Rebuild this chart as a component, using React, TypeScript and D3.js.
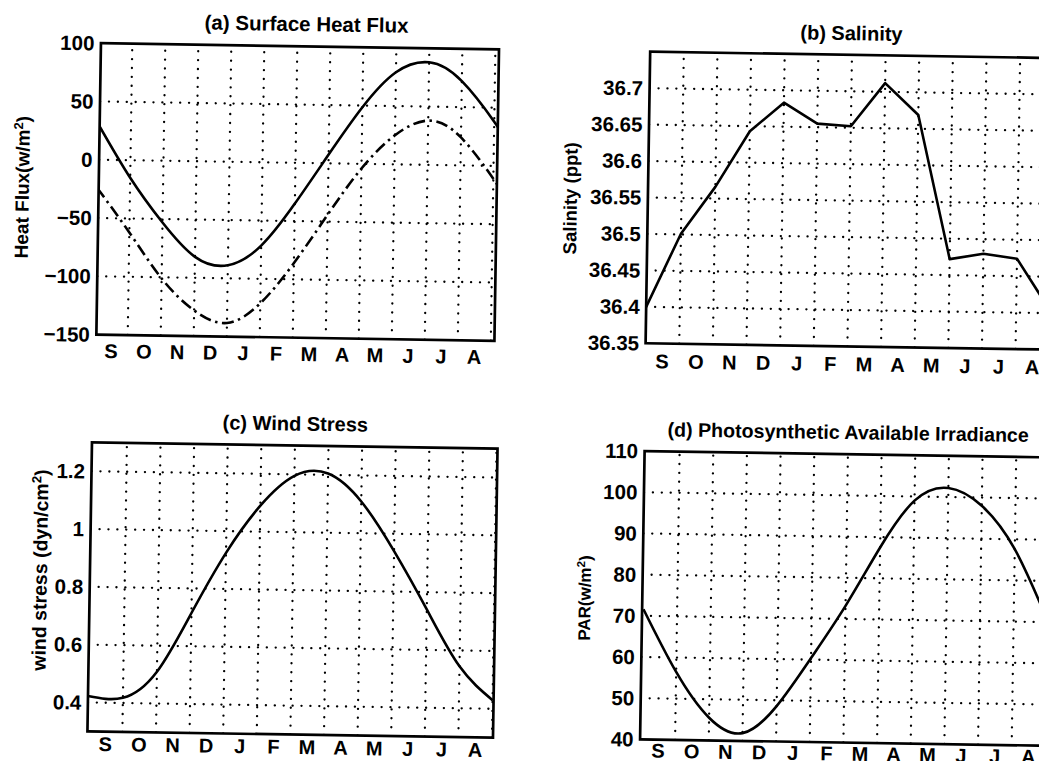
import React from "react";
import * as d3 from "d3";

// ---------- data ----------
const MONTHS = ["S", "O", "N", "D", "J", "F", "M", "A", "M", "J", "J", "A"];
const MONTH_BOUNDS = [1, 2, 3, 4, 5, 6, 7, 8, 9, 10, 11, 12];

// (a) Surface heat flux (w/m^2): solid and dash-dot curves
const HEAT_MONTH = [0, 1, 2, 3, 4, 5, 6, 7, 8, 9, 10, 11, 12, 12.15];
const HEAT_NET = [31, -15, -53, -82, -88.8, -71.5, -35, 7.5, 48.5, 79, 88, 72.3, 38, 31];
const HEAT_DASH = [-24, -62, -101, -128, -138.3, -121, -86, -44, -4, 25, 38, 24, -11, -18];
const HEAT_TICKS = [100, 50, 0, -50, -100, -150];
const HEAT_TICK_LABELS = ["100", "50", "0", "\u221250", "\u2212100", "\u2212150"];

// (b) Salinity (ppt)
const SAL_MONTH = [0, 1, 2, 3, 4, 5, 6, 7, 8, 9, 10, 11, 12];
const SALINITY = [36.4, 36.501, 36.566, 36.643, 36.683, 36.655, 36.652, 36.712, 36.669, 36.472, 36.48, 36.474, 36.404];
const SAL_TICKS = [36.7, 36.65, 36.6, 36.55, 36.5, 36.45, 36.4, 36.35];
const SAL_TICK_LABELS = ["36.7", "36.65", "36.6", "36.55", "36.5", "36.45", "36.4", "36.35"];

// (c) Wind stress (dyn/cm^2)
const WIND_MONTH = [-0.04, 1, 2, 3, 4, 5, 6, 7, 8, 9, 10, 11, 12];
const WIND = [0.422, 0.418, 0.51, 0.715, 0.925, 1.09, 1.195, 1.205, 1.11, 0.94, 0.74, 0.545, 0.43];
const WIND_TICKS = [1.2, 1, 0.8, 0.6, 0.4];
const WIND_TICK_LABELS = ["1.2", "1", "0.8", "0.6", "0.4"];

// (d) Photosynthetic available irradiance (w/m^2)
const PAR_MONTH = [0, 1, 2, 3, 4, 5, 6, 7, 8, 9, 10, 11, 12];
const PAR = [71.6, 56.5, 45.5, 41.9, 48.6, 60.4, 73.2, 87.5, 99, 102.2, 98, 87.6, 70.5];
const PAR_TICKS = [110, 100, 90, 80, 70, 60, 50, 40];
const PAR_TICK_LABELS = ["110", "100", "90", "80", "70", "60", "50", "40"];

// ---------- layout ----------
const FONT = "'Liberation Sans', Arial, Helvetica, sans-serif";
const W = 1039;
const H = 761;

type Series = { xs: number[]; ys: number[]; dash?: string; curve: any };
type Panel = {
  key: string;
  title: string;
  titleSize: number;
  titleX: number;
  titleY: number;
  left: number;
  right: number;
  top: number;
  bottom: number;
  xStart: number;
  xEnd: number;
  yDomain: [number, number];
  ticks: number[];
  tickLabels: string[];
  grid: number[];
  monthY: number;
  ylabel: React.ReactNode;
  ylabelSize: number;
  ylabelX: number;
  ylabelY: number;
  series: Series[];
};

const sup = (base: string, after: string, size: number) => (
  <>
    {base}
    <tspan dy={-size * 0.36} fontSize={size * 0.68}>2</tspan>
    <tspan dy={size * 0.36}>{after}</tspan>
  </>
);

const smooth = d3.curveNatural;

const PANELS: Panel[] = [
  {
    key: "a",
    title: "(a) Surface Heat Flux",
    titleSize: 20.5,
    titleX: 301,
    titleY: 34.5,
    left: 95.7,
    right: 493.8,
    top: 49.8,
    bottom: 341.2,
    xStart: 0.05,
    xEnd: 12.11,
    yDomain: [-150, 100],
    ticks: HEAT_TICKS,
    tickLabels: HEAT_TICK_LABELS,
    grid: [50, 0, -50, -100],
    monthY: 364.5,
    ylabel: sup("Heat Flux(w/m", ")", 19),
    ylabelSize: 19,
    ylabelX: 26,
    ylabelY: 195,
    series: [
      { xs: HEAT_MONTH, ys: HEAT_NET, curve: smooth },
      { xs: HEAT_MONTH, ys: HEAT_DASH, dash: "12 4.5 2.5 4.5", curve: smooth },
    ],
  },
  {
    key: "b",
    title: "(b) Salinity",
    titleSize: 20,
    titleX: 846,
    titleY: 35,
    left: 645,
    right: 1052,
    top: 49.7,
    bottom: 341.3,
    xStart: 0,
    xEnd: 12.1,
    yDomain: [36.35, 36.75],
    ticks: SAL_TICKS,
    tickLabels: SAL_TICK_LABELS,
    grid: [36.7, 36.65, 36.6, 36.55, 36.5, 36.45, 36.4],
    monthY: 366,
    ylabel: "Salinity (ppt)",
    ylabelSize: 18.5,
    ylabelX: 574,
    ylabelY: 197.5,
    series: [{ xs: SAL_MONTH, ys: SALINITY, curve: d3.curveLinear }],
  },
  {
    key: "c",
    title: "(c) Wind Stress",
    titleSize: 20,
    titleX: 296,
    titleY: 434,
    left: 93,
    right: 498.6,
    top: 449,
    bottom: 738.1,
    xStart: -0.04,
    xEnd: 12.03,
    yDomain: [0.3, 1.3],
    ticks: WIND_TICKS,
    tickLabels: WIND_TICK_LABELS,
    grid: [1.2, 1, 0.8, 0.6, 0.4],
    monthY: 757.5,
    ylabel: sup("wind stress (dyn/cm", ")", 19.5),
    ylabelSize: 19.5,
    ylabelX: 50,
    ylabelY: 577.5,
    series: [{ xs: WIND_MONTH, ys: WIND, curve: smooth }],
  },
  {
    key: "d",
    title: "(d) Photosynthetic Available Irradiance",
    titleSize: 19.6,
    titleX: 849,
    titleY: 434,
    left: 645.7,
    right: 1052.7,
    top: 449.1,
    bottom: 737.4,
    xStart: -0.04,
    xEnd: 12.05,
    yDomain: [40, 110],
    ticks: PAR_TICKS,
    tickLabels: PAR_TICK_LABELS,
    grid: [100, 90, 80, 70, 60, 50],
    monthY: 755.5,
    ylabel: sup("PAR(w/m", ")", 17),
    ylabelSize: 17,
    ylabelX: 594,
    ylabelY: 597,
    series: [{ xs: PAR_MONTH, ys: PAR, curve: smooth }],
  },
];

function PanelView({ p }: { p: Panel }) {
  const x = d3.scaleLinear().domain([p.xStart, p.xEnd]).range([p.left, p.right]);
  const y = d3.scaleLinear().domain(p.yDomain).range([p.bottom, p.top]);
  const clipId = `clip-${p.key}`;
  const dotted = {
    stroke: "#000",
    strokeWidth: 2.3,
    strokeDasharray: "0.1 8.8",
    strokeLinecap: "round" as const,
  };
  return (
    <g>
      <defs>
        <clipPath id={clipId}>
          <rect x={p.left} y={p.top} width={p.right - p.left} height={p.bottom - p.top} />
        </clipPath>
      </defs>
      <g clipPath={`url(#${clipId})`}>
        {MONTH_BOUNDS.map((m) => (
          <line key={`v${m}`} x1={x(m)} x2={x(m)} y1={p.bottom} y2={p.top} {...dotted} />
        ))}
        {p.grid.map((v) => (
          <line key={`h${v}`} x1={p.left} x2={p.right} y1={y(v)} y2={y(v)} {...dotted} />
        ))}
        {p.series.map((s, i) => {
          const pts: [number, number][] = s.xs.map((xv, j) => [xv, s.ys[j]]);
          const gen = d3
            .line<[number, number]>()
            .x((d) => x(d[0]))
            .y((d) => y(d[1]))
            .curve(s.curve);
          return (
            <path
              key={i}
              d={gen(pts) || ""}
              fill="none"
              stroke="#000"
              strokeWidth={2.6}
              strokeDasharray={s.dash}
              strokeLinejoin="round"
            />
          );
        })}
      </g>
      <rect
        x={p.left}
        y={p.top}
        width={p.right - p.left}
        height={p.bottom - p.top}
        fill="none"
        stroke="#000"
        strokeWidth={2.7}
      />
      {p.ticks.map((v, i) => (
        <text
          key={`t${v}`}
          x={p.left - 6.5}
          y={y(v) + 7.3}
          textAnchor="end"
          fontFamily={FONT}
          fontWeight="bold"
          fontSize={20.5}
        >
          {p.tickLabels[i]}
        </text>
      ))}
      {MONTHS.map((m, i) => (
        <text
          key={`m${i}`}
          x={x(i + 0.5)}
          y={p.monthY}
          textAnchor="middle"
          fontFamily={FONT}
          fontWeight="bold"
          fontSize={20}
        >
          {m}
        </text>
      ))}
      <text
        x={p.titleX}
        y={p.titleY}
        textAnchor="middle"
        fontFamily={FONT}
        fontWeight="bold"
        fontSize={p.titleSize}
      >
        {p.title}
      </text>
      <text
        transform={`translate(${p.ylabelX},${p.ylabelY}) rotate(-90)`}
        textAnchor="middle"
        fontFamily={FONT}
        fontWeight="bold"
        fontSize={p.ylabelSize}
      >
        {p.ylabel}
      </text>
    </g>
  );
}

export default function App() {
  return (
    <svg
      width={W}
      height={H}
      viewBox={`0 0 ${W} ${H}`}
      style={{ position: "absolute", left: 0, top: 0, background: "#fff" }}
    >
      <rect x={0} y={0} width={W} height={H} fill="#fff" />
      <g transform="rotate(0.9 519.5 380.5)">
        {PANELS.map((p) => (
          <PanelView key={p.key} p={p} />
        ))}
      </g>
    </svg>
  );
}
